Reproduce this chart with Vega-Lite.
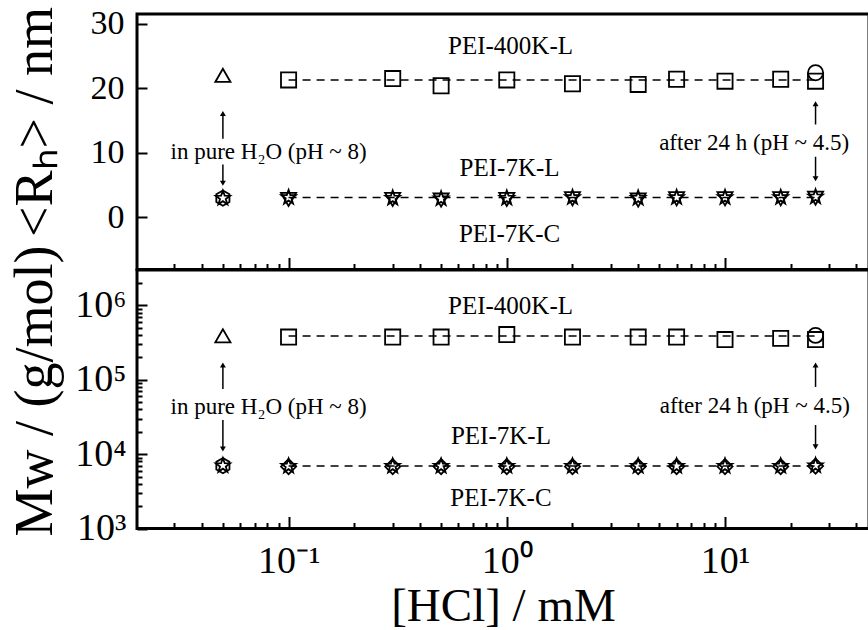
{
  "$schema": "https://vega.github.io/schema/vega-lite/v6.json",
  "padding": {"left": 6, "top": 5, "right": 0, "bottom": 0},
  "background": "white",
  "config": {
    "view": {"stroke": "black", "strokeWidth": 3},
    "axis": {"domain": false, "grid": false, "tickColor": "black", "tickWidth": 2, "labelColor": "black", "titleColor": "black", "labelFont": "Liberation Serif", "titleFont": "Liberation Serif", "titleFontWeight": "normal", "labelOverlap": false, "labelFlush": false},
    "text": {"font": "Liberation Serif", "color": "black"}
  },
  "datasets": {
    "rh": [
      {"x": 0.1, "y": 21.3, "s": "400K"}, {"x": 0.3, "y": 21.5, "s": "400K"}, {"x": 0.5, "y": 20.4, "s": "400K"}, {"x": 1, "y": 21.3, "s": "400K"}, {"x": 2, "y": 20.7, "s": "400K"}, {"x": 4, "y": 20.6, "s": "400K"}, {"x": 6, "y": 21.4, "s": "400K"}, {"x": 10, "y": 21.1, "s": "400K"}, {"x": 18, "y": 21.4, "s": "400K"}, {"x": 26, "y": 21.1, "s": "400K"},
      {"x": 0.05, "y": 22.0, "s": "400K-water"},
      {"x": 26, "y": 22.4, "s": "400K-24h"},
      {"x": 0.1, "y": 3.1, "s": "7K-L"}, {"x": 0.3, "y": 3.0, "s": "7K-L"}, {"x": 0.5, "y": 2.9, "s": "7K-L"}, {"x": 1, "y": 3.0, "s": "7K-L"}, {"x": 2, "y": 3.1, "s": "7K-L"}, {"x": 4, "y": 3.0, "s": "7K-L"}, {"x": 6, "y": 3.1, "s": "7K-L"}, {"x": 10, "y": 3.1, "s": "7K-L"}, {"x": 18, "y": 3.1, "s": "7K-L"}, {"x": 26, "y": 3.2, "s": "7K-L"},
      {"x": 0.1, "y": 2.8, "s": "7K-C"}, {"x": 0.3, "y": 2.8, "s": "7K-C"}, {"x": 0.5, "y": 2.7, "s": "7K-C"}, {"x": 1, "y": 2.8, "s": "7K-C"}, {"x": 2, "y": 2.9, "s": "7K-C"}, {"x": 4, "y": 2.7, "s": "7K-C"}, {"x": 6, "y": 2.9, "s": "7K-C"}, {"x": 10, "y": 2.9, "s": "7K-C"}, {"x": 18, "y": 2.9, "s": "7K-C"}, {"x": 26, "y": 3.0, "s": "7K-C"},
      {"x": 0.05, "y": 3.0, "s": "7K-L-water"},
      {"x": 0.05, "y": 3.0, "s": "7K-C-water"}
    ],
    "mw": [
      {"x": 0.1, "y": 375000, "s": "400K"}, {"x": 0.3, "y": 375000, "s": "400K"}, {"x": 0.5, "y": 375000, "s": "400K"}, {"x": 1, "y": 405000, "s": "400K"}, {"x": 2, "y": 375000, "s": "400K"}, {"x": 4, "y": 375000, "s": "400K"}, {"x": 6, "y": 375000, "s": "400K"}, {"x": 10, "y": 347000, "s": "400K"}, {"x": 18, "y": 360000, "s": "400K"}, {"x": 26, "y": 347000, "s": "400K"},
      {"x": 0.05, "y": 390000, "s": "400K-water"},
      {"x": 26, "y": 395000, "s": "400K-24h"},
      {"x": 0.1, "y": 6900, "s": "7K-L"}, {"x": 0.3, "y": 6900, "s": "7K-L"}, {"x": 0.5, "y": 6900, "s": "7K-L"}, {"x": 1, "y": 6900, "s": "7K-L"}, {"x": 2, "y": 6900, "s": "7K-L"}, {"x": 4, "y": 6900, "s": "7K-L"}, {"x": 6, "y": 6900, "s": "7K-L"}, {"x": 10, "y": 6900, "s": "7K-L"}, {"x": 18, "y": 6900, "s": "7K-L"}, {"x": 26, "y": 7000, "s": "7K-L"},
      {"x": 0.1, "y": 6800, "s": "7K-C"}, {"x": 0.3, "y": 6800, "s": "7K-C"}, {"x": 0.5, "y": 6800, "s": "7K-C"}, {"x": 1, "y": 6800, "s": "7K-C"}, {"x": 2, "y": 6800, "s": "7K-C"}, {"x": 4, "y": 6800, "s": "7K-C"}, {"x": 6, "y": 6800, "s": "7K-C"}, {"x": 10, "y": 6800, "s": "7K-C"}, {"x": 18, "y": 6800, "s": "7K-C"}, {"x": 26, "y": 6900, "s": "7K-C"},
      {"x": 0.05, "y": 7000, "s": "7K-L-water"},
      {"x": 0.05, "y": 7000, "s": "7K-C-water"}
    ],
    "rhLines": [{"x": 0.1, "x2": 26, "y": 21.3}, {"x": 0.1, "x2": 26, "y": 3.1}],
    "mwLines": [{"x": 0.1, "x2": 26, "y": 386000}, {"x": 0.1, "x2": 26, "y": 6900}],
    "rhLabels": [{"x": 1.04, "y": 26.6, "t": "PEI-400K-L"}, {"x": 1.03, "y": 7.6, "t": "PEI-7K-L"}, {"x": 1.03, "y": -2.5, "t": "PEI-7K-C"}],
    "mwLabels": [{"x": 1.04, "y": 980000, "t": "PEI-400K-L"}, {"x": 0.94, "y": 17500, "t": "PEI-7K-L"}, {"x": 0.94, "y": 2570, "t": "PEI-7K-C"}],
    "rhNotes": [{"x": 0.081, "y": 10.2, "t": "in pure H₂O (pH ~ 8)"}, {"x": 13.6, "y": 11.6, "t": "after 24 h (pH ~ 4.5)"}],
    "mwNotes": [{"x": 0.081, "y": 43000, "t": "in pure H₂O (pH ~ 8)"}, {"x": 13.7, "y": 44000, "t": "after 24 h (pH ~ 4.5)"}],
    "rhArrows": [{"x": 0.05, "y": 12.2, "yh": 16.1, "d": "up"}, {"x": 0.05, "y": 8.2, "yh": 5.3, "d": "down"}, {"x": 26, "y": 14.4, "yh": 17.6, "d": "up"}, {"x": 26, "y": 9.4, "yh": 6.0, "d": "down"}],
    "mwArrows": [{"x": 0.05, "y": 75000, "yh": 158000, "d": "up"}, {"x": 0.05, "y": 28700, "yh": 11700, "d": "down"}, {"x": 26, "y": 80000, "yh": 158000, "d": "up"}, {"x": 26, "y": 24600, "yh": 12500, "d": "down"}]
  },
  "vconcat": [
    {
      "width": 732,
      "height": 255.5,
      "encoding": {
        "x": {"field": "x", "type": "quantitative",
          "scale": {"type": "log", "domain": [0.0202, 45.7], "nice": false},
          "axis": {"values": [0.02, 0.03, 0.04, 0.05, 0.06, 0.07, 0.08, 0.09, 0.1, 0.2, 0.3, 0.4, 0.5, 0.6, 0.7, 0.8, 0.9, 1, 2, 3, 4, 5, 6, 7, 8, 9, 10, 20, 30, 40],
            "labels": false, "title": null,
            "tickSize": {"condition": {"test": "datum.value == 0.1 || datum.value == 1 || datum.value == 10", "value": -12}, "value": -6}}},
        "y": {"field": "y", "type": "quantitative",
          "scale": {"domain": [-8.05, 31.5], "nice": false, "zero": false},
          "axis": {"values": [0, 10, 20, 30], "tickSize": -10, "labelPadding": 23, "labelFontSize": 34,
            "title": "<Rₕ> / nm", "titleFontSize": 54, "titleX": -86, "titleY": 107.5, "titleAngle": 270, "titleBaseline": "alphabetic", "titleAlign": "center"}}
      },
      "layer": [
        {"data": {"name": "rhLines"}, "mark": {"type": "rule", "color": "black", "strokeWidth": 1.5, "strokeDash": [8, 6]},
          "encoding": {"x2": {"field": "x2"}}},
        {"data": {"name": "rh"}, "mark": {"type": "point", "filled": false, "stroke": "black", "strokeWidth": 1.8, "size": 230, "opacity": 1},
          "encoding": {"shape": {"field": "s", "type": "nominal", "legend": null,
            "scale": {"domain": ["400K", "400K-water", "400K-24h", "7K-L", "7K-C", "7K-L-water", "7K-C-water"],
              "range": ["square", "triangle-up", "circle", "M0,-1L0.235,-0.324L0.951,-0.309L0.380,0.124L0.588,0.809L0,0.4L-0.588,0.809L-0.380,0.124L-0.951,-0.309L-0.235,-0.324Z", "triangle-down", "M0,-1L0.235,-0.324L0.951,-0.309L0.380,0.124L0.588,0.809L0,0.4L-0.588,0.809L-0.380,0.124L-0.951,-0.309L-0.235,-0.324Z", "M0,-1L0.866,-0.5L0.866,0.5L0,1L-0.866,0.5L-0.866,-0.5Z"]}}}},
        {"data": {"name": "rhLabels"}, "mark": {"type": "text", "fontSize": 25, "align": "center", "baseline": "middle"},
          "encoding": {"text": {"field": "t"}}},
        {"data": {"name": "rhNotes"}, "mark": {"type": "text", "fontSize": 23, "align": "center", "baseline": "middle"},
          "encoding": {"text": {"field": "t"}}},
        {"data": {"name": "rhArrows"}, "mark": {"type": "rule", "color": "black", "strokeWidth": 1.5},
          "encoding": {"y2": {"field": "yh"}}},
        {"data": {"name": "rhArrows"}, "transform": [{"filter": "datum.d == 'up'"}], "mark": {"type": "point", "shape": "triangle-up", "filled": true, "color": "black", "size": 35, "opacity": 1},
          "encoding": {"y": {"field": "yh", "type": "quantitative"}}},
        {"data": {"name": "rhArrows"}, "transform": [{"filter": "datum.d == 'down'"}], "mark": {"type": "point", "shape": "triangle-down", "filled": true, "color": "black", "size": 35, "opacity": 1},
          "encoding": {"y": {"field": "yh", "type": "quantitative"}}}
      ]
    },
    {
      "width": 732,
      "height": 258.5,
      "encoding": {
        "x": {"field": "x", "type": "quantitative",
          "scale": {"type": "log", "domain": [0.0202, 45.7], "nice": false},
          "axis": {"values": [0.02, 0.03, 0.04, 0.05, 0.06, 0.07, 0.08, 0.09, 0.1, 0.2, 0.3, 0.4, 0.5, 0.6, 0.7, 0.8, 0.9, 1, 2, 3, 4, 5, 6, 7, 8, 9, 10, 20, 30, 40],
            "labelExpr": "datum.value == 0.1 ? '10⁻¹' : datum.value == 1 ? '10⁰' : datum.value == 10 ? '10¹' : ''",
            "labelFontSize": 38, "labelPadding": 26,
            "tickSize": {"condition": {"test": "datum.value == 0.1 || datum.value == 1 || datum.value == 10", "value": -12}, "value": -6},
            "title": "[HCl] / mM", "titleFontSize": 47, "titleY": 92, "titleBaseline": "alphabetic"}},
        "y": {"field": "y", "type": "quantitative",
          "scale": {"type": "log", "domain": [1000, 2990000], "nice": false},
          "axis": {"values": [1000, 2000, 3000, 4000, 5000, 6000, 7000, 8000, 9000, 10000, 20000, 30000, 40000, 50000, 60000, 70000, 80000, 90000, 100000, 200000, 300000, 400000, 500000, 600000, 700000, 800000, 900000, 1000000, 2000000],
            "labelExpr": "datum.value == 1000 ? '10³' : datum.value == 10000 ? '10⁴' : datum.value == 100000 ? '10⁵' : datum.value == 1000000 ? '10⁶' : ''",
            "tickSize": {"condition": {"test": "datum.value == 1000 || datum.value == 10000 || datum.value == 100000 || datum.value == 1000000", "value": -10}, "value": -5},
            "labelPadding": 21, "labelFontSize": 38,
            "title": "Mw / (g/mol)", "titleFontSize": 54, "titleX": -86, "titleY": 120.5, "titleAngle": 270, "titleBaseline": "alphabetic", "titleAlign": "center"}}
      },
      "layer": [
        {"data": {"name": "mwLines"}, "mark": {"type": "rule", "color": "black", "strokeWidth": 1.5, "strokeDash": [8, 6]},
          "encoding": {"x2": {"field": "x2"}}},
        {"data": {"name": "mw"}, "mark": {"type": "point", "filled": false, "stroke": "black", "strokeWidth": 1.8, "size": 230, "opacity": 1},
          "encoding": {"shape": {"field": "s", "type": "nominal", "legend": null,
            "scale": {"domain": ["400K", "400K-water", "400K-24h", "7K-L", "7K-C", "7K-L-water", "7K-C-water"],
              "range": ["square", "triangle-up", "circle", "M0,-1L0.235,-0.324L0.951,-0.309L0.380,0.124L0.588,0.809L0,0.4L-0.588,0.809L-0.380,0.124L-0.951,-0.309L-0.235,-0.324Z", "diamond", "M0,-1L0.235,-0.324L0.951,-0.309L0.380,0.124L0.588,0.809L0,0.4L-0.588,0.809L-0.380,0.124L-0.951,-0.309L-0.235,-0.324Z", "M0,-1L0.866,-0.5L0.866,0.5L0,1L-0.866,0.5L-0.866,-0.5Z"]}}}},
        {"data": {"name": "mwLabels"}, "mark": {"type": "text", "fontSize": 25, "align": "center", "baseline": "middle"},
          "encoding": {"text": {"field": "t"}}},
        {"data": {"name": "mwNotes"}, "mark": {"type": "text", "fontSize": 23, "align": "center", "baseline": "middle"},
          "encoding": {"text": {"field": "t"}}},
        {"data": {"name": "mwArrows"}, "mark": {"type": "rule", "color": "black", "strokeWidth": 1.5},
          "encoding": {"y2": {"field": "yh"}}},
        {"data": {"name": "mwArrows"}, "transform": [{"filter": "datum.d == 'up'"}], "mark": {"type": "point", "shape": "triangle-up", "filled": true, "color": "black", "size": 35, "opacity": 1},
          "encoding": {"y": {"field": "yh", "type": "quantitative"}}},
        {"data": {"name": "mwArrows"}, "transform": [{"filter": "datum.d == 'down'"}], "mark": {"type": "point", "shape": "triangle-down", "filled": true, "color": "black", "size": 35, "opacity": 1},
          "encoding": {"y": {"field": "yh", "type": "quantitative"}}}
      ]
    }
  ],
  "spacing": 0,
  "bounds": "flush",
  "resolve": {"scale": {"x": "independent", "y": "independent", "shape": "independent"}}
}
